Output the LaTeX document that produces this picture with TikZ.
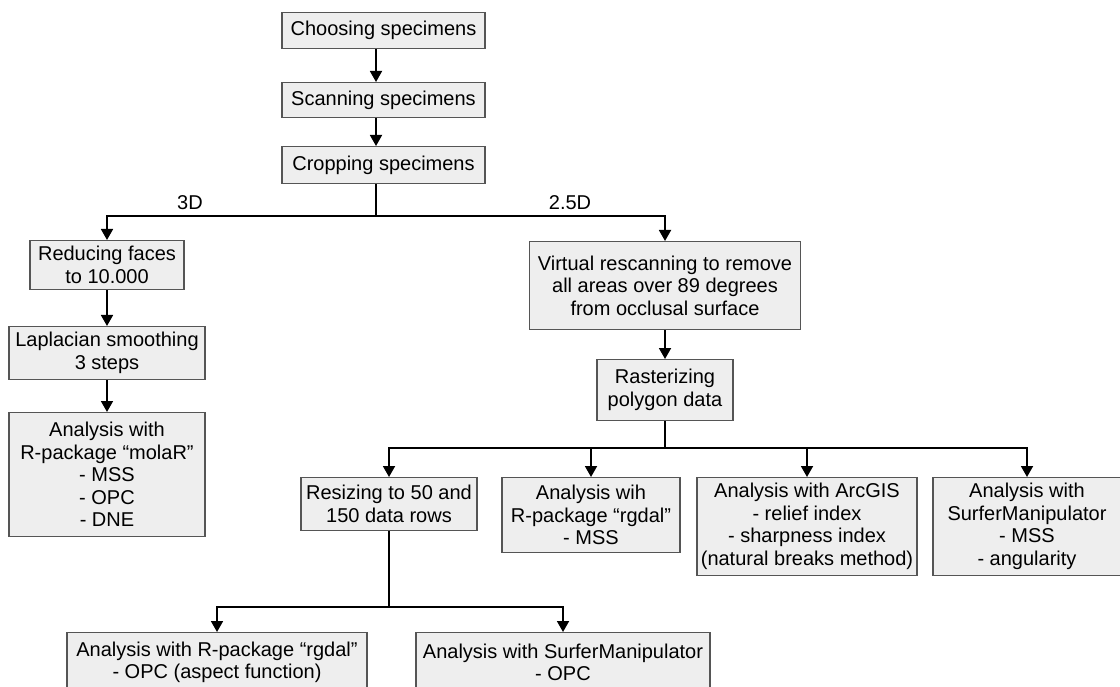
\documentclass[tikz,border=0pt]{standalone}
\usepackage{fontspec}
\setmainfont{Liberation Sans}
\usetikzlibrary{arrows.meta,positioning,calc}
\definecolor{boxfill}{RGB}{238,238,238}
\definecolor{boxline}{RGB}{85,85,85}

\begin{document}
\begin{tikzpicture}[x=1pt,y=-1pt,
    stepbox/.style={draw=boxline,line width=1.1pt,fill=boxfill,anchor=north,align=center,
      inner sep=0pt,font=\fontsize{20}{22.5}\selectfont},
    lbl/.style={font=\fontsize{20}{22.5}\selectfont,inner sep=0pt},
    link/.style={line width=1.8pt},
    flow/.style={link,-{Triangle[width=12pt,length=11pt]}}]
    \clip (0,0) rectangle (1120,687);
    % boxes: name/x/top/width/height/text
    \foreach \n/\x/\y/\w/\h/\t in {
      choose/383.5/12/203/36/Choosing specimens,
      scan/383.5/82/203/35/Scanning specimens,
      crop/383.5/146/203/37/Cropping specimens,
      reduce/107/240/154/49/Reducing faces\\to 10.000,
      lap/107/326/196/53/Laplacian smoothing\\3 steps,
      molar/107/412/196/124/Analysis with\\R-package “molaR”\\- MSS\\- OPC\\- DNE,
      virtual/665/241/271/88/Virtual rescanning to remove\\all areas over 89 degrees\\from occlusal surface,
      raster/665/359/136/61/Rasterizing\\polygon data,
      resize/389/477/176/53/Resizing to 50 and\\150 data rows,
      rgdal/591/477/178/75/Analysis wih\\R-package “rgdal”\\- MSS,
      arcgis/807/477/220/98/Analysis with ArcGIS\\- relief index\\- sharpness index\\(natural breaks method),
      surfer/1027/477/188/98/Analysis with\\SurferManipulator\\- MSS\\- angularity,
      rgdaltwo/217/632/300/60/Analysis with R-package “rgdal”\\- OPC (aspect function),
      surfertwo/563/632/294/60/Analysis with SurferManipulator\\- OPC}
    {
      \node[stepbox,minimum width=\w pt,minimum height=\h pt] (\n) at (\x,\y) {\t};
    }
    \node[lbl] (l3d) at (190,203) {3D};
    \node[lbl] (l25d) at (570,203) {2.5D};
    % top column
    \coordinate (spine) at (376,0);
    \draw[flow] (choose.south -| spine) -- (scan.north -| spine);
    \draw[flow] (scan.south -| spine) -- (crop.north -| spine);
    \coordinate (split) at (376,216);
    \draw[link] (crop.south -| spine) -- (split);
    \draw[flow] (split) -| (reduce.north);
    \draw[flow] (split) -| (virtual.north);
    % 3D
    \draw[flow] (reduce) -- (lap);
    \draw[flow] (lap) -- (molar);
    % 2.5D
    \draw[flow] (virtual) -- (raster);
    \coordinate (fork) at (665,448);
    \draw[link] (raster.south) -- (fork);
    \foreach \b in {resize,rgdal,arcgis,surfer}
      \draw[flow] (fork) -| (\b.north);
    \coordinate (forktwo) at (389,607);
    \draw[link] (resize.south) -- (forktwo);
    \foreach \b in {rgdaltwo,surfertwo}
      \draw[flow] (forktwo) -| (\b.north);
  \end{tikzpicture}
\end{document}
